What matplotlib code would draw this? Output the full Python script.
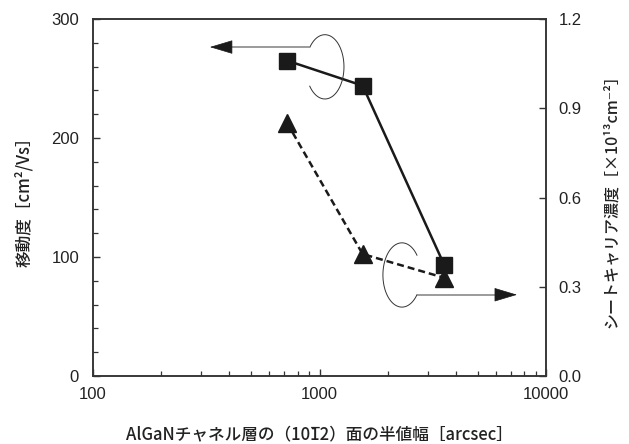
import numpy as np
import matplotlib
matplotlib.use("Agg")
import matplotlib.pyplot as plt
from matplotlib.ticker import MultipleLocator, FixedLocator, LogLocator, NullFormatter

# data
fwhm = [720, 1550, 3560]             # arcsec
mobility = [265, 244, 93]            # cm2/Vs (left axis)
sheet_carrier = [0.85, 0.41, 0.33]   # x1e13 cm-2 (right axis)

x_ticks = [100, 1000, 10000]
x_tick_labels = ["100", "1000", "10000"]
left_ticks = [0, 100, 200, 300]
right_ticks = [0.0, 0.3, 0.6, 0.9, 1.2]

xlabel = "AlGaNチャネル層の（101\u03052）面の半値幅［arcsec］"
ylabel_left = "移動度［cm²/Vs］"
ylabel_right = "シートキャリア濃度［×10¹³cm⁻²］"

plt.rcParams["font.family"] = ["Liberation Sans", "DejaVu Sans"]
JP = ["Noto Sans CJK JP", "DejaVu Sans"]
INK = "#1a1a1a"
AXC = "#333333"
GRAY = "#8a8a8a"

W, H = 629, 444
fig = plt.figure(figsize=(W / 100, H / 100), dpi=100)
ax = fig.add_axes([93 / W, 68 / H, 453 / W, 357 / H])
ax2 = ax.twinx()

ax.plot(fwhm, mobility, color=INK, lw=1.8, marker="s", ms=11.5, zorder=3)
ax2.plot(fwhm, sheet_carrier, color=INK, lw=1.8, dashes=(2.8, 1.6),
         marker="^", ms=12.5, zorder=3)

ax.set_xscale("log")
ax.set_xlim(100, 10000)
ax.set_ylim(0, 300)
ax2.set_ylim(0, 1.2)

ax.xaxis.set_major_locator(FixedLocator(x_ticks))
ax.set_xticklabels(x_tick_labels)
ax.xaxis.set_minor_locator(LogLocator(base=10, subs=np.arange(2, 10)))
ax.xaxis.set_minor_formatter(NullFormatter())
ax.yaxis.set_major_locator(FixedLocator(left_ticks))
ax.yaxis.set_minor_locator(MultipleLocator(20))
ax2.yaxis.set_major_locator(FixedLocator(right_ticks))
ax2.set_yticklabels([f"{v:.1f}" for v in right_ticks])

for a in (ax, ax2):
    a.tick_params(which="major", direction="in", length=5, width=1.0,
                  color=AXC, labelsize=12, labelcolor="#222222", pad=8)
    a.tick_params(which="minor", direction="in", length=3.6, width=0.9, color=AXC)
    for s in a.spines.values():
        s.set_color(AXC)
        s.set_linewidth(1.1)
    for t in a.get_xticklabels() + a.get_yticklabels():
        t.set_family("Liberation Sans")
ax.tick_params(axis="y", pad=10)
ax2.tick_params(axis="y", pad=9)

ax.set_xlabel(xlabel, family=JP, fontsize=12, weight="medium", labelpad=17, color="#222222")
ax.set_ylabel(ylabel_left, family=JP, fontsize=12, weight="medium", labelpad=13, color="#222222")
ax2.set_ylabel(ylabel_right, family=JP, fontsize=11.5, weight="medium", labelpad=15, color="#222222")


def loop(a, cx, cy, rx, ry, t1, t2):
    t = np.radians(np.linspace(t1, t2, 120))
    xs = cx + rx * np.cos(t)
    ys = cy + ry * np.sin(t)
    a.plot(xs, ys, transform=a.transAxes, color=AXC, lw=0.7, zorder=4)
    return xs[-1], ys[-1]


def arrow(a, x0, y0, x1, head=0.046):
    step = head if x1 > x0 else -head
    a.plot([x0, x1 - step], [y0, y0], transform=a.transAxes, color=GRAY,
           lw=1.2, zorder=4, solid_capstyle="butt")
    a.annotate("", xy=(x1, y0), xytext=(x1 - step, y0),
               xycoords="axes fraction", textcoords="axes fraction",
               arrowprops=dict(arrowstyle="-|>,head_length=1.0,head_width=0.3",
                               mutation_scale=15, color=INK, lw=0.5,
                               shrinkA=0, shrinkB=0), zorder=5)


# mobility -> left axis
sx, sy = loop(ax2, 0.512, 0.866, 0.042, 0.090, -143, 142)
arrow(ax2, sx, sy, 0.258)
# sheet carrier -> right axis
sx, sy = loop(ax2, 0.682, 0.283, 0.042, 0.090, 38, 322)
arrow(ax2, sx, sy, 0.936)

fig.savefig("out.png", dpi=100)
